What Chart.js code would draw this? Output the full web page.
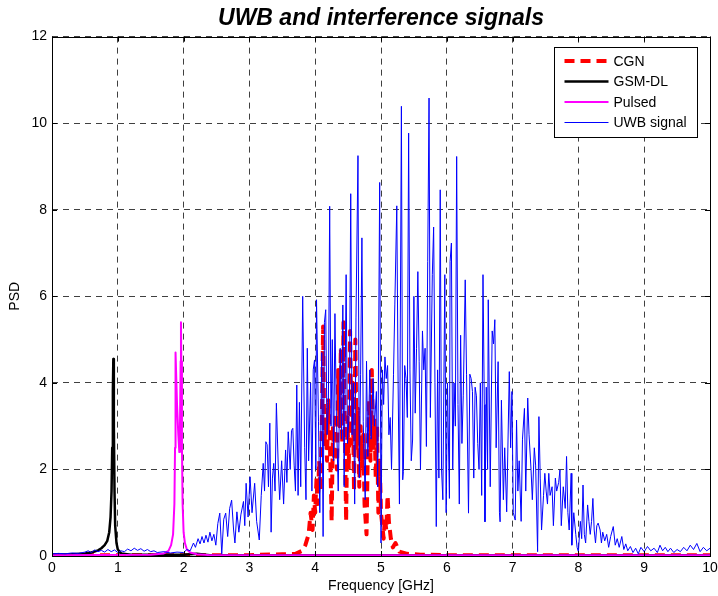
<!DOCTYPE html>
<html><head><meta charset="utf-8">
<script src="https://cdn.jsdelivr.net/npm/chart.js@4.4.0/dist/chart.umd.min.js"></script>
<style>html,body{margin:0;padding:0;background:#fff;}#wrap{width:718px;height:596px;}</style>
</head><body><div id="wrap"><canvas id="c" width="718" height="596"></canvas></div>
<script>
const seriesNames = ['CGN', 'GSM-DL', 'Pulsed', 'UWB signal'];
const xTicks = [0,1,2,3,4,5,6,7,8,9,10];
const yTicks = [0,2,4,6,8,10,12];

const uwbPoints = [
[0.00,0.05],[0.10,0.06],[0.20,0.05],[0.30,0.07],[0.40,0.06],[0.50,0.09],[0.55,0.12],[0.60,0.08],[0.65,0.14],[0.70,0.10],
[0.75,0.13],[0.80,0.09],[0.85,0.15],[0.90,0.10],[0.95,0.14],[1.00,0.08],[1.05,0.12],[1.10,0.10],[1.15,0.16],[1.20,0.12],
[1.25,0.18],[1.30,0.13],[1.35,0.17],[1.40,0.11],[1.45,0.15],[1.50,0.10],[1.55,0.12],[1.60,0.08],[1.70,0.10],[1.80,0.07],
[1.90,0.09],[2.00,0.08],[2.05,0.15],[2.10,0.12],[2.15,0.30],[2.18,0.20],[2.22,0.40],[2.25,0.28],[2.28,0.45],[2.31,0.30],
[2.34,0.48],[2.37,0.32],[2.40,0.55],[2.43,0.35],[2.46,0.50],[2.49,0.25],[2.52,0.75],[2.55,0.99],[2.58,0.05],[2.61,0.85],
[2.64,0.99],[2.67,0.45],[2.70,1.10],[2.73,1.29],[2.76,0.60],[2.78,0.30],[2.81,1.02],[2.84,0.55],[2.87,0.95],[2.91,1.26],
[2.93,0.70],[2.95,1.68],[2.98,0.90],[3.01,1.83],[3.04,1.00],[3.08,1.68],[3.11,0.80],[3.15,0.37],[3.18,1.40],[3.21,2.14],
[3.23,1.50],[3.25,2.64],[3.27,2.57],[3.29,1.60],[3.31,3.07],[3.33,0.55],[3.35,1.80],[3.37,2.14],[3.39,1.50],[3.41,3.53],
[3.44,2.00],[3.46,1.30],[3.49,2.20],[3.52,1.20],[3.55,2.45],[3.57,1.70],[3.59,2.87],[3.62,2.00],[3.64,2.90],[3.66,2.95],
[3.68,2.10],[3.70,1.50],[3.72,3.95],[3.74,1.40],[3.76,3.55],[3.78,1.60],[3.81,6.00],[3.84,2.50],[3.86,1.30],[3.88,4.80],
[3.90,2.20],[3.93,4.00],[3.95,1.50],[3.97,4.30],[3.99,4.53],[4.01,2.00],[4.02,5.92],[4.05,3.10],[4.07,1.00],[4.10,4.70],
[4.12,0.45],[4.14,5.40],[4.16,5.69],[4.18,2.80],[4.20,3.50],[4.22,8.08],[4.24,3.00],[4.26,5.00],[4.28,2.20],[4.30,5.60],
[4.32,3.40],[4.35,1.50],[4.38,4.80],[4.40,2.70],[4.42,5.80],[4.44,1.60],[4.47,6.50],[4.49,2.60],[4.52,3.40],[4.54,8.37],
[4.56,2.80],[4.58,4.00],[4.60,1.20],[4.62,5.50],[4.65,9.25],[4.67,1.80],[4.69,4.20],[4.71,7.35],[4.73,3.10],[4.76,1.30],
[4.78,4.50],[4.80,2.30],[4.83,4.30],[4.85,2.70],[4.88,4.10],[4.90,3.00],[4.93,3.80],[4.95,1.60],[4.98,8.63],[5.00,0.30],
[5.02,4.30],[5.04,3.50],[5.06,4.60],[5.08,4.10],[5.10,4.40],[5.12,2.80],[5.14,3.20],[5.16,2.00],[5.19,4.20],[5.21,5.80],
[5.24,8.09],[5.26,4.00],[5.28,1.20],[5.31,10.39],[5.33,1.76],[5.34,1.95],[5.36,4.40],[5.38,4.10],[5.40,3.20],[5.42,9.77],
[5.44,4.30],[5.46,2.20],[5.48,2.68],[5.50,6.00],[5.52,3.30],[5.54,4.80],[5.56,6.57],[5.58,4.50],[5.60,2.00],[5.63,5.20],
[5.65,4.30],[5.67,4.80],[5.69,2.53],[5.71,6.80],[5.73,10.58],[5.75,3.20],[5.78,6.50],[5.80,7.60],[5.82,4.00],[5.84,0.68],
[5.86,4.30],[5.88,1.80],[5.90,8.46],[5.92,2.00],[5.94,1.30],[5.97,6.50],[5.99,1.00],[6.01,4.00],[6.04,1.33],[6.05,6.80],
[6.07,7.23],[6.09,2.00],[6.11,4.00],[6.13,3.00],[6.15,9.23],[6.17,3.50],[6.19,1.20],[6.21,5.10],[6.23,2.60],[6.25,3.70],
[6.28,6.38],[6.30,4.20],[6.33,0.99],[6.35,4.20],[6.37,4.10],[6.39,3.80],[6.41,1.80],[6.43,3.90],[6.45,3.70],[6.47,2.60],
[6.49,2.00],[6.51,4.00],[6.53,1.40],[6.55,6.50],[6.57,3.50],[6.58,0.79],[6.60,3.90],[6.62,2.00],[6.63,5.92],[6.66,1.60],
[6.69,5.20],[6.71,4.90],[6.73,5.46],[6.75,2.50],[6.78,4.49],[6.80,1.00],[6.81,0.79],[6.83,3.60],[6.86,1.30],[6.88,2.50],
[6.91,1.02],[6.95,4.26],[6.97,2.50],[6.99,3.80],[7.01,1.00],[7.04,0.83],[7.06,3.14],[7.08,1.50],[7.10,2.20],[7.13,0.80],
[7.15,2.70],[7.18,3.41],[7.20,1.50],[7.23,3.65],[7.25,2.80],[7.28,2.00],[7.30,1.30],[7.33,2.50],[7.35,2.10],[7.38,0.10],
[7.40,3.22],[7.42,1.80],[7.44,0.60],[7.47,1.40],[7.49,1.91],[7.51,1.50],[7.53,1.20],[7.55,1.91],[7.57,1.40],[7.60,1.60],
[7.62,0.70],[7.65,1.80],[7.67,1.50],[7.70,1.70],[7.72,1.99],[7.74,0.70],[7.77,1.60],[7.80,1.10],[7.82,2.30],[7.84,1.00],
[7.86,0.60],[7.89,1.91],[7.90,0.25],[7.93,1.00],[7.96,0.50],[7.98,0.20],[8.00,0.10],[8.03,0.80],[8.05,0.40],[8.07,1.64],
[8.09,0.50],[8.11,0.30],[8.14,1.18],[8.16,0.80],[8.18,0.50],[8.20,0.80],[8.22,1.33],[8.24,0.60],[8.26,0.30],[8.28,0.70],
[8.30,0.76],[8.33,0.60],[8.35,0.30],[8.37,0.55],[8.40,0.35],[8.43,0.50],[8.46,0.20],[8.49,0.45],[8.53,0.68],[8.56,0.25],
[8.59,0.40],[8.62,0.20],[8.66,0.45],[8.69,0.15],[8.72,0.28],[8.75,0.12],[8.79,0.22],[8.83,0.08],[8.87,0.18],[8.91,0.05],
[8.95,0.20],[9.00,0.10],[9.05,0.22],[9.10,0.12],[9.15,0.18],[9.20,0.08],[9.24,0.25],[9.28,0.12],[9.32,0.20],[9.36,0.10],
[9.40,0.18],[9.45,0.08],[9.50,0.15],[9.55,0.10],[9.60,0.20],[9.65,0.12],[9.70,0.25],[9.75,0.15],[9.80,0.29],[9.85,0.10],
[9.90,0.20],[9.95,0.12],[10.0,0.18]
];

const cgnPoints = [
[0,0.02],[3.0,0.02],[3.5,0.04],[3.7,0.05],[3.8,0.12],[3.85,0.25],[3.9,0.5],[3.93,1.0],[3.96,0.6],[3.98,1.4],
[4.0,1.0],[4.02,1.8],[4.04,1.2],[4.06,2.2],[4.08,1.5],[4.10,3.0],[4.12,5.3],[4.14,2.5],[4.16,3.2],[4.18,2.2],
[4.20,3.6],[4.22,2.8],[4.24,1.5],[4.25,0.8],[4.27,3.0],[4.29,2.2],[4.31,3.3],[4.33,2.0],[4.35,4.3],[4.37,3.0],
[4.39,4.8],[4.41,2.6],[4.43,5.4],[4.45,3.0],[4.47,0.8],[4.49,3.2],[4.51,2.0],[4.53,5.2],[4.55,2.6],[4.57,4.0],
[4.59,1.5],[4.61,5.0],[4.63,2.5],[4.65,3.4],[4.67,1.6],[4.69,3.0],[4.71,2.0],[4.73,2.8],[4.75,1.2],[4.78,0.5],
[4.80,2.5],[4.82,3.6],[4.84,2.2],[4.86,4.3],[4.88,2.5],[4.90,3.2],[4.92,1.8],[4.94,3.0],[4.96,1.0],[4.98,2.2],
[5.00,1.0],[5.02,0.7],[5.04,0.4],[5.06,0.9],[5.08,0.6],[5.10,1.4],[5.12,0.8],[5.15,0.4],[5.18,0.2],[5.22,0.3],
[5.28,0.1],[5.4,0.05],[5.6,0.03],[6.0,0.02],[10,0.02]
];

const gsmPoints = [
[0,0.03],[0.3,0.04],[0.5,0.06],[0.6,0.08],[0.7,0.13],[0.75,0.18],[0.8,0.25],[0.84,0.35],[0.87,0.55],[0.89,0.9],
[0.905,1.5],[0.915,2.5],[0.925,3.8],[0.932,4.55],[0.94,3.0],[0.95,1.5],[0.96,0.7],[0.98,0.3],[1.0,0.15],[1.05,0.06],
[1.2,0.03],[2.0,0.03],[2.2,0.05],[2.4,0.02],[10,0.02]
];

const pulsedPoints = [
[0,0.02],[1.5,0.03],[1.7,0.06],[1.77,0.12],[1.81,0.25],[1.84,0.5],[1.86,1.2],[1.87,2.5],[1.875,3.8],[1.88,4.7],
[1.885,4.3],[1.9,3.5],[1.92,2.8],[1.935,2.4],[1.945,3.0],[1.955,4.5],[1.96,5.4],[1.965,4.5],[1.975,2.5],[1.985,1.2],
[2.0,0.55],[2.02,0.3],[2.05,0.15],[2.1,0.08],[2.2,0.04],[2.4,0.02],[10,0.02]
];

const toXY = pts => pts.map(p => ({x: p[0], y: p[1]}));
const FONT = "'Liberation Sans', Arial, Helvetica, sans-serif";

const styles = {
  'CGN': {color: '#ff0000', width: 4, dash: [10, 6]},
  'GSM-DL': {color: '#000000', width: 2.5, dash: []},
  'Pulsed': {color: '#ff00ff', width: 2, dash: []},
  'UWB signal': {color: '#0000ff', width: 1, dash: []}
};

const decorPlugin = {
  id: 'decor',
  afterDraw(chart) {
    const ctx = chart.ctx, a = chart.chartArea;
    const xs = chart.scales.x, ys = chart.scales.y;
    ctx.save();
    ctx.setLineDash([]);
    ctx.strokeStyle = '#000';
    ctx.lineWidth = 1;
    ctx.beginPath();
    xTicks.forEach(v => {
      const px = Math.round(xs.getPixelForValue(v)) + 0.5;
      ctx.moveTo(px, a.bottom); ctx.lineTo(px, a.bottom - 5);
      ctx.moveTo(px, a.top); ctx.lineTo(px, a.top + 5);
    });
    yTicks.forEach(v => {
      const py = Math.round(ys.getPixelForValue(v)) + 0.5;
      ctx.moveTo(a.left, py); ctx.lineTo(a.left + 5, py);
      ctx.moveTo(a.right, py); ctx.lineTo(a.right - 5, py);
    });
    ctx.stroke();
    ctx.strokeRect(Math.round(a.left) + 0.5, Math.round(a.top) + 0.5, Math.round(a.right - a.left), Math.round(a.bottom - a.top));
    // legend box
    const bw = 143, bh = 90;
    const bx = Math.round(a.right) - 13 - bw + 0.5, by = Math.round(a.top) + 10 + 0.5;
    ctx.fillStyle = '#fff';
    ctx.fillRect(bx, by, bw, bh);
    ctx.strokeRect(bx, by, bw, bh);
    ctx.font = '14px ' + FONT;
    ctx.textBaseline = 'middle';
    seriesNames.forEach((name, i) => {
      const st = styles[name];
      const ry = by + 13.5 + i * 20.5;
      ctx.save();
      ctx.strokeStyle = st.color;
      ctx.lineWidth = st.width;
      ctx.setLineDash(st.dash);
      ctx.beginPath();
      ctx.moveTo(bx + 10, ry); ctx.lineTo(bx + 54, ry);
      ctx.stroke();
      ctx.restore();
      ctx.fillStyle = '#000';
      ctx.fillText(name, bx + 59, ry + 1);
    });
    ctx.restore();
  }
};

const dsOrder = ['UWB signal', 'Pulsed', 'GSM-DL', 'CGN'];
const dataFor = {'UWB signal': uwbPoints, 'Pulsed': pulsedPoints, 'GSM-DL': gsmPoints, 'CGN': cgnPoints};

new Chart(document.getElementById('c'), {
  type: 'line',
  data: {
    datasets: dsOrder.map(name => ({
      label: name,
      data: toXY(dataFor[name]),
      borderColor: styles[name].color,
      borderWidth: styles[name].width,
      borderDash: styles[name].dash,
      pointRadius: 0,
      tension: 0,
      fill: false,
      borderJoinStyle: 'round'
    }))
  },
  plugins: [decorPlugin],
  options: {
    responsive: false,
    animation: false,
    devicePixelRatio: 1,
    layout: {padding: {left: 0, right: 8, top: 0, bottom: 0}},
    plugins: {
      legend: {display: false},
      tooltip: {enabled: false},
      title: {
        display: true,
        fullSize: false,
        text: 'UWB and interference signals',
        color: '#000',
        font: {family: FONT, size: 23, weight: 'bold', style: 'italic'},
        padding: {top: 5, bottom: 4}
      }
    },
    scales: {
      x: {
        type: 'linear', min: 0, max: 10,
        ticks: {stepSize: 1, color: '#000', font: {family: FONT, size: 14}, padding: 4, maxRotation: 0},
        grid: {color: 'rgba(0,0,0,0.75)', lineWidth: 1, drawTicks: false},
        border: {display: false, dash: [6, 5]},
        title: {display: true, text: 'Frequency [GHz]', color: '#000', font: {family: FONT, size: 14}, padding: {top: 0, bottom: 1}},
        afterFit(s) { s.height = 40; s.paddingLeft = 0; s.paddingRight = 0; }
      },
      y: {
        min: 0, max: 12,
        ticks: {stepSize: 2, color: '#000', font: {family: FONT, size: 14}, padding: 5},
        grid: {color: 'rgba(0,0,0,0.75)', lineWidth: 1, drawTicks: false},
        border: {display: false, dash: [6, 5]},
        title: {display: true, text: 'PSD', color: '#000', font: {family: FONT, size: 14}, padding: {top: 7, bottom: 0}},
        afterFit(s) { s.width = 52; s.paddingTop = 0; s.paddingBottom = 0; }
      }
    }
  }
});
</script>
</body></html>
